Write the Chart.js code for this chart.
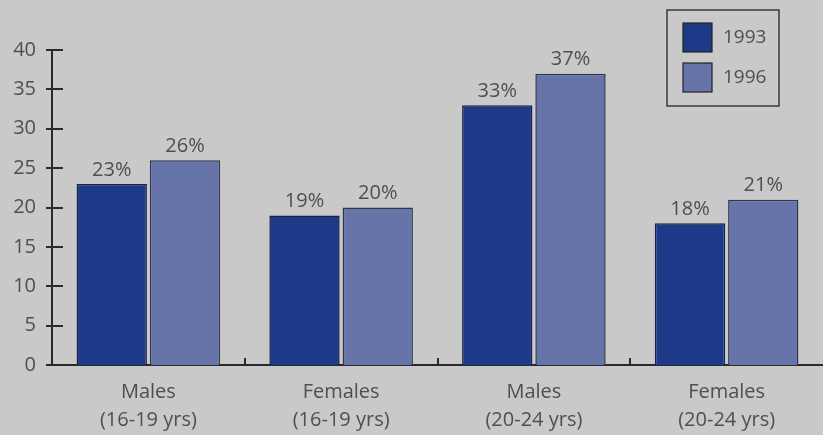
<!DOCTYPE html>
<html>
<head>
<meta charset="utf-8">
<script src="https://cdn.jsdelivr.net/npm/chart.js"></script>
<style>
  html, body { margin: 0; padding: 0; background: #c8c9c8; }
  #wrap { width: 823px; height: 435px; }
</style>
</head>
<body>
<div id="wrap"><canvas id="chart" width="823" height="435"></canvas></div>
<script>
// categories and values per survey year
var categories = [
	['Males', '(16-19 yrs)'],
	['Females', '(16-19 yrs)'],
	['Males', '(20-24 yrs)'],
	['Females', '(20-24 yrs)']
];
var years = ['1993', '1996'];
var values1993 = [23, 19, 33, 18];
var values1996 = [26, 20, 37, 21];
var yMin = 0, yMax = 40, yStep = 5;

var textColor = '#4f4f4f';
var axisColor = '#2a2a2a';
var fontFamily = "'Open Sans', 'DejaVu Sans', sans-serif";

// page colour behind everything
var bgPlugin = {
	id: 'bg',
	beforeDraw: function(chart) {
		var c = chart.ctx;
		c.save();
		c.fillStyle = '#c8c9c8';
		c.fillRect(0, 0, chart.width, chart.height);
		c.restore();
	}
};

// tick marks: y ticks cross the axis line, small x ticks between groups
var tickPlugin = {
	id: 'tickMarks',
	afterDraw: function(chart) {
		var c = chart.ctx;
		var y = chart.scales.y, x = chart.scales.x;
		var left = chart.chartArea.left, bottom = chart.chartArea.bottom;
		c.save();
		c.strokeStyle = axisColor;
		c.lineWidth = 2;
		c.beginPath();
		for (var v = yMin; v <= yMax; v += yStep) {
			var py = Math.round(y.getPixelForValue(v));
			c.moveTo(left - 6, py);
			c.lineTo(left + (v === yMin ? 0 : 11), py);
		}
		for (var i = 1; i < categories.length; i++) {
			var px = Math.round((x.getPixelForValue(i - 1) + x.getPixelForValue(i)) / 2);
			c.moveTo(px, bottom);
			c.lineTo(px, bottom - 7);
		}
		c.stroke();
		c.restore();
	}
};

// percentage above each bar
var valueLabels = {
	id: 'valueLabels',
	afterDatasetsDraw: function(chart) {
		var c = chart.ctx;
		c.save();
		c.fillStyle = textColor;
		c.font = '20px ' + fontFamily;
		c.textAlign = 'center';
		c.textBaseline = 'bottom';
		chart.data.datasets.forEach(function(ds, di) {
			chart.getDatasetMeta(di).data.forEach(function(bar, i) {
				c.fillText(ds.data[i] + '%', bar.x, bar.y - 4);
			});
		});
		c.restore();
	}
};

// boxed legend in the top right corner
var boxLegend = {
	id: 'boxLegend',
	afterDraw: function(chart) {
		var c = chart.ctx;
		var bx = 667, by = 10, bw = 112, bh = 96;
		c.save();
		c.strokeStyle = '#3a3a3a';
		c.lineWidth = 1.5;
		c.strokeRect(bx, by, bw, bh);
		c.font = '19px ' + fontFamily;
		c.textBaseline = 'middle';
		chart.data.datasets.forEach(function(ds, i) {
			var sy = by + 13 + i * 40;
			c.fillStyle = ds.backgroundColor;
			c.fillRect(bx + 16, sy, 29, 29);
			c.strokeStyle = '#222222';
			c.lineWidth = 1.2;
			c.strokeRect(bx + 16, sy, 29, 29);
			c.fillStyle = textColor;
			c.fillText(ds.label, bx + 56, sy + 15);
		});
		c.restore();
	}
};

new Chart(document.getElementById('chart'), {
	type: 'bar',
	data: {
		labels: categories,
		datasets: [{
			label: years[0],
			data: values1993,
			backgroundColor: '#1c3a87',
			borderColor: '#17204a',
			borderWidth: 1.5,
			categoryPercentage: 0.76,
			barPercentage: 0.96
		}, {
			label: years[1],
			data: values1996,
			backgroundColor: '#6774a9',
			borderColor: '#2f354f',
			borderWidth: 1.5,
			categoryPercentage: 0.76,
			barPercentage: 0.96
		}]
	},
	options: {
		responsive: false,
		animation: false,
		layout: { padding: { top: 50, right: 0, bottom: 0, left: 0 } },
		plugins: {
			legend: { display: false },
			tooltip: { enabled: false }
		},
		scales: {
			x: {
				grid: { display: false },
				border: { display: true, color: axisColor, width: 2 },
				ticks: {
					color: textColor,
					font: { family: fontFamily, size: 20, lineHeight: 1.4 },
					padding: 5,
					maxRotation: 0
				},
				afterFit: function(scale) { scale.height = 70; }
			},
			y: {
				min: yMin,
				max: yMax,
				grid: { display: false },
				border: { display: true, color: axisColor, width: 2 },
				ticks: {
					stepSize: yStep,
					color: textColor,
					font: { family: fontFamily, size: 20 },
					padding: 8
				},
				afterFit: function(scale) { scale.width = 52; }
			}
		}
	},
	plugins: [bgPlugin, tickPlugin, valueLabels, boxLegend]
});
</script>
</body>
</html>
